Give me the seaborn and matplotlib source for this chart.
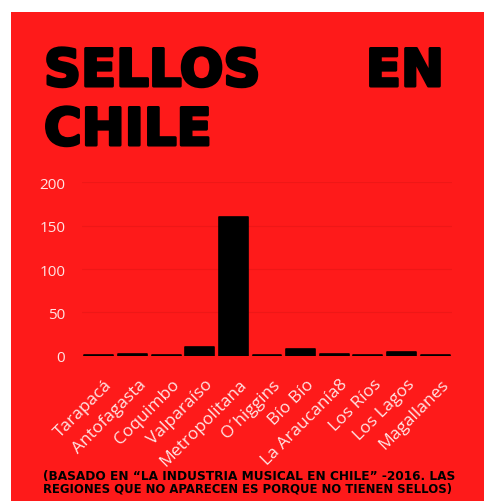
import matplotlib
matplotlib.use("Agg")
import matplotlib.pyplot as plt
import matplotlib.transforms as mtrans
import matplotlib.patheffects as pe
import seaborn as sns
import pandas as pd
from matplotlib.patches import Rectangle

regions = ["Tarapacá", "Antofagasta", "Coquimbo", "Valparaíso", "Metropolitana",
           "O´higgins", "Bío Bío", "La Araucanía8", "Los Ríos", "Los Lagos", "Magallanes"]
sellos = [1, 2, 1, 10, 160, 1, 8, 2, 1, 4, 1]
yticks = [0, 50, 100, 150, 200]

title_words = ["SELLOS", "EN", "CHILE"]
footer_lines = ["(BASADO EN “LA INDUSTRIA MUSICAL EN CHILE” -2016. LAS",
                "REGIONES QUE NO APARECEN ES PORQUE NO TIENEN SELLOS)"]

RED = "#fe1a1a"
LABEL = "#ffe4e4"

sns.set_theme(style="white")
plt.rcParams['font.family'] = ['Open Sans', 'DejaVu Sans']

W, H = 484, 502
fig = plt.figure(figsize=(W / 100, H / 100), dpi=100, facecolor="white")
fig.patches.append(Rectangle((11 / W, 0), 1 - 11 / W, (H - 13) / H,
                             transform=fig.transFigure, facecolor=RED,
                             edgecolor="none", zorder=-10))

ax = fig.add_axes([82 / W, (H - 356.7) / H, (452 - 82) / W, (356.7 - 183.3) / H])
ax.set_facecolor(RED)
df = pd.DataFrame({"region": regions, "sellos": sellos})
sns.barplot(data=df, x="region", y="sellos", color="black", width=0.86,
            edgecolor="black", linewidth=1.2, saturation=1, ax=ax, zorder=3)
for p in ax.patches:
    p.set_joinstyle("round")

ax.set_ylim(0, 200)
ax.set_yticks(yticks)
ax.set_yticklabels([str(v) for v in yticks])
ax.yaxis.grid(True, color="#ef1717", linewidth=0.8, zorder=0)
ax.set_axisbelow(True)
for s in ax.spines.values():
    s.set_visible(False)
ax.set_xlabel("")
ax.set_ylabel("")
ax.tick_params(axis="y", length=0, pad=12, labelsize=11, labelcolor=LABEL)
ax.tick_params(axis="x", length=0, pad=0, labelsize=12.5, labelcolor=LABEL)
off = mtrans.ScaledTranslation(11 / 100, -26 / 100, fig.dpi_scale_trans)
for lbl in ax.get_xticklabels():
    lbl.set_rotation(45)
    lbl.set_ha("right")
    lbl.set_va("center")
    lbl.set_rotation_mode("anchor")
    lbl.set_transform(lbl.get_transform() + off)

renderer = fig.canvas.get_renderer()


def fit(t, width_px):
    bb = t.get_window_extent(renderer)
    t.set_fontsize(t.get_fontsize() * width_px / bb.width)


heavy = [pe.withStroke(linewidth=2.2, foreground="black")]
tfont = dict(family=["DejaVu Sans"], weight="bold", color="black", fontsize=37)
fig.text(44 / W, (H - 87) / H, title_words[0], ha="left", va="baseline",
         path_effects=heavy, **tfont)
fig.text(444 / W, (H - 87) / H, title_words[1], ha="right", va="baseline",
         path_effects=heavy, **tfont)
fig.text(44 / W, (H - 146) / H, title_words[2], ha="left", va="baseline",
         path_effects=heavy, **tfont)

ffont = dict(family=["DejaVu Sans"], weight="bold", color="black", fontsize=8)
f1 = fig.text(43 / W, (H - 480) / H, footer_lines[0], ha="left", va="baseline", **ffont)
f2 = fig.text(43 / W, (H - 493) / H, footer_lines[1], ha="left", va="baseline", **ffont)
fit(f1, 409)
fit(f2, 405)

fig.savefig("out.png", dpi=100, facecolor="white")
